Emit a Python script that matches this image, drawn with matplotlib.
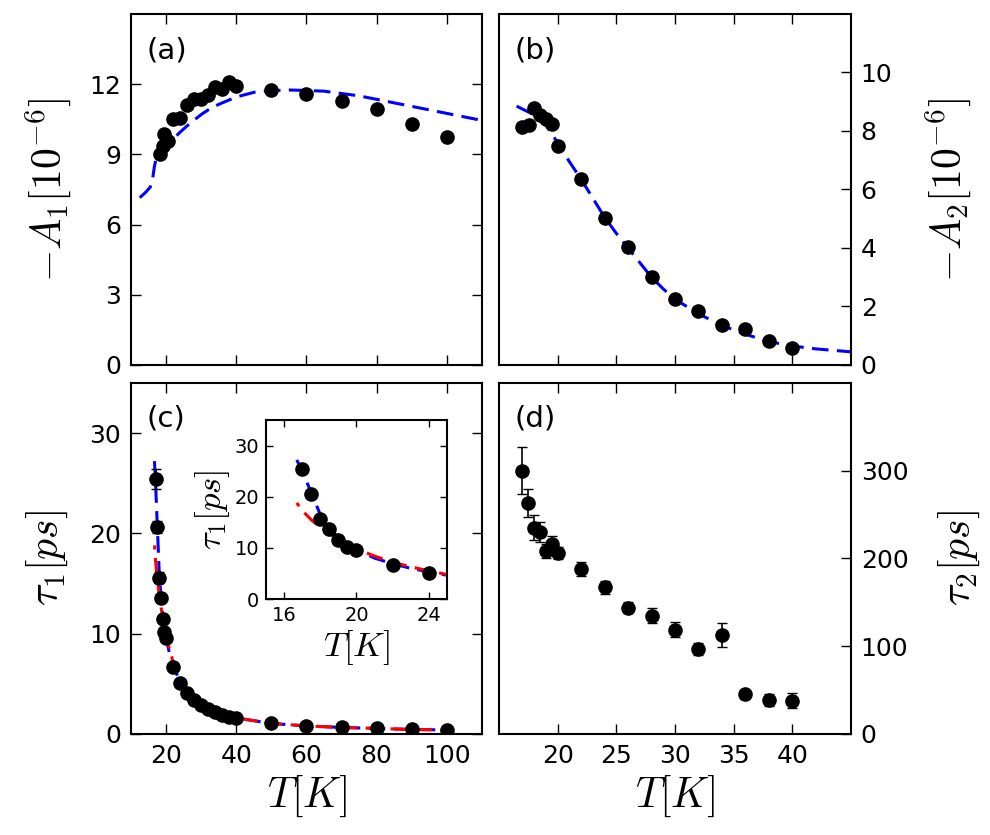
import matplotlib
matplotlib.use('Agg')
import matplotlib.pyplot as plt

plt.rcParams['mathtext.fontset'] = 'cm'
plt.rcParams['font.family'] = ['DejaVu Sans']
plt.rcParams['lines.scale_dashes'] = False

# (a) -A1 data and fit
t_a = [18.4, 19.1, 19.5, 20.5, 22, 24, 26, 28, 30, 32, 34, 36, 38, 40,
       50, 60, 70, 80, 90, 100]
a1 = [9.0, 9.35, 9.88, 9.58, 10.5, 10.57, 11.1, 11.36, 11.36, 11.53, 11.86,
      11.81, 12.1, 11.9, 11.76, 11.57, 11.29, 10.93, 10.29, 9.74]
fit_t_a = [12.5, 14, 15.5, 16.2, 16.7, 17.2, 18, 19, 20, 22, 24, 27, 30, 33,
           36, 40, 45, 50, 55, 60, 65, 70, 75, 80, 85, 90, 95, 100, 105, 110]
fit_a1 = [7.15, 7.35, 7.6, 8.0, 8.5, 8.85, 9.0, 9.15, 9.3, 9.65, 9.95, 10.35,
          10.7, 11.0, 11.2, 11.45, 11.65, 11.72, 11.75, 11.73, 11.7, 11.6,
          11.5, 11.35, 11.2, 11.05, 10.9, 10.75, 10.6, 10.45]

# (b) -A2 data and fit
t_b = [17.0, 17.6, 18.0, 18.5, 19.0, 19.5, 20, 22, 24, 26, 28, 30, 32, 34,
       36, 38, 40]
a2 = [8.15, 8.22, 8.79, 8.55, 8.4, 8.25, 7.5, 6.35, 5.02, 4.03, 3.01, 2.26,
      1.84, 1.35, 1.24, 0.82, 0.59]
fit_t_b = [16.5, 18, 19, 20, 21, 22, 23, 24, 25, 26, 27, 28, 29, 30, 32, 34,
           36, 38, 40, 42, 45]
fit_a2 = [8.85, 8.55, 8.2, 7.6, 6.95, 6.35, 5.7, 5.05, 4.5, 4.0, 3.5, 3.0,
          2.6, 2.25, 1.75, 1.35, 1.05, 0.8, 0.65, 0.55, 0.45]

# (c) tau1 data and fits
t_c = [17, 17.5, 18, 18.5, 19, 19.5, 20, 22, 24, 26, 28, 30, 32, 34, 36, 38,
       40, 50, 60, 70, 80, 90, 100]
tau1 = [25.4, 20.6, 15.6, 13.6, 11.5, 10.2, 9.6, 6.7, 5.1, 4.06, 3.4, 2.9,
        2.46, 2.23, 1.9, 1.73, 1.63, 1.06, 0.8, 0.7, 0.57, 0.47, 0.4]
tau1_err = [1.0, 0.6, 0.5, 0.4, 0.3, 0.3, 0.3, 0.2, 0.2, 0.1, 0.1, 0.1, 0.1,
            0.1, 0.1, 0.1, 0.1, 0.05, 0.05, 0.05, 0.05, 0.05, 0.05]
fit_t_blue = [16.7, 17.0, 17.5, 18.0, 18.5, 19, 19.5, 20, 21, 22, 23, 24, 25,
              27, 30, 35, 40, 50, 60, 70, 80, 90, 100]
fit_tau_blue = [27.2, 25.0, 20.8, 16.5, 13.9, 12.0, 10.6, 9.6, 8.0, 6.9, 6.0,
                5.3, 4.65, 3.9, 3.0, 2.1, 1.6, 1.05, 0.8, 0.65, 0.55, 0.45, 0.4]
fit_t_red = [16.7, 17, 17.5, 18, 18.5, 19, 20, 21, 22, 23, 24, 25, 27, 30, 35,
             40, 50, 60, 70, 80, 90, 100]
fit_tau_red = [18.8, 17.3, 15.5, 14.0, 12.8, 11.7, 9.8, 8.4, 7.2, 6.3, 5.5,
               4.8, 3.9, 3.0, 2.1, 1.6, 1.05, 0.8, 0.65, 0.55, 0.45, 0.4]

# (d) tau2 data
t_d = [17, 17.5, 18, 18.5, 19, 19.5, 20, 22, 24, 26, 28, 30, 32, 34, 36, 38, 40]
tau2 = [300, 263, 235, 230, 208, 217, 206, 188, 167, 144, 134.5, 119, 97,
        113, 45, 39, 38]
tau2_err = [27, 16, 14, 11, 8, 9, 7, 8, 7.5, 6.5, 8.5, 8.5, 7, 14, 5, 7, 8.5]

TICK_FS = 18
LABEL_FS = 30
PANEL_FS = 21
MS = 9.5
DASH = (12, 6)


def style(ax, fs=TICK_FS):
    ax.tick_params(direction='in', top=True, right=True, length=7, width=1,
                   labelsize=fs, pad=7)
    for s in ax.spines.values():
        s.set_linewidth(1.5)


fig = plt.figure(figsize=(9.9, 8.35), dpi=100)
ax_a = fig.add_axes([0.1323, 0.5629, 0.3545, 0.4204])
ax_b = fig.add_axes([0.5040, 0.5629, 0.3556, 0.4204])
ax_c = fig.add_axes([0.1323, 0.1210, 0.3545, 0.4204])
ax_d = fig.add_axes([0.5040, 0.1210, 0.3556, 0.4204])
ax_in = fig.add_axes([0.2687, 0.2826, 0.1828, 0.2144])

# (a)
ax_a.plot(fit_t_a, fit_a1, color='blue', lw=2.2, dashes=DASH)
ax_a.plot(t_a, a1, 'ko', ms=MS)
ax_a.set_xlim(10, 110)
ax_a.set_ylim(0, 15)
ax_a.set_yticks([0, 3, 6, 9, 12])
ax_a.set_xticks([20, 40, 60, 80, 100])
ax_a.set_xticklabels([])
ax_a.set_ylabel(r'$-A_1[10^{-6}]$', fontsize=LABEL_FS, labelpad=12)
ax_a.text(0.043, 0.897, '(a)', transform=ax_a.transAxes, fontsize=PANEL_FS,
          va='center', ha='left')
style(ax_a)

# (b)
ax_b.plot(fit_t_b, fit_a2, color='blue', lw=2.2, dashes=DASH)
ax_b.plot(t_b, a2, 'ko', ms=MS)
ax_b.set_xlim(15, 45)
ax_b.set_ylim(0, 12)
ax_b.set_yticks([0, 2, 4, 6, 8, 10])
ax_b.set_xticks([20, 25, 30, 35, 40])
ax_b.set_xticklabels([])
ax_b.yaxis.tick_right()
ax_b.yaxis.set_label_position('right')
ax_b.set_ylabel(r'$-A_2[10^{-6}]$', fontsize=LABEL_FS, rotation=90,
                labelpad=22)
ax_b.text(0.043, 0.897, '(b)', transform=ax_b.transAxes, fontsize=PANEL_FS,
          va='center', ha='left')
style(ax_b)
ax_b.tick_params(labelleft=False, labelright=True)

# (c)
ax_c.plot(fit_t_blue, fit_tau_blue, color='blue', lw=2.2, dashes=DASH)
ax_c.plot(fit_t_red, fit_tau_red, color='red', lw=2.2,
          linestyle=(9, DASH))
ax_c.errorbar(t_c, tau1, yerr=tau1_err, fmt='ko', ms=MS, ecolor='k',
              elinewidth=1.2, capsize=3.6, zorder=3)
ax_c.set_xlim(10, 110)
ax_c.set_ylim(0, 35)
ax_c.set_yticks([0, 10, 20, 30])
ax_c.set_xticks([20, 40, 60, 80, 100])
ax_c.set_ylabel(r'$\tau_1[ps]$', fontsize=LABEL_FS, labelpad=14)
ax_c.set_xlabel(r'$T[K]$', fontsize=LABEL_FS, labelpad=4)
ax_c.text(0.043, 0.90, '(c)', transform=ax_c.transAxes, fontsize=PANEL_FS,
          va='center', ha='left')
style(ax_c)

# inset
ax_in.plot(fit_t_blue, fit_tau_blue, color='blue', lw=2.2, dashes=DASH)
ax_in.plot(fit_t_red, fit_tau_red, color='red', lw=2.2, linestyle=(9, DASH))
ax_in.plot(t_c, tau1, 'ko', ms=MS)
ax_in.set_xlim(15, 25)
ax_in.set_ylim(0, 35)
ax_in.set_xticks([16, 20, 24])
ax_in.set_yticks([0, 10, 20, 30])
ax_in.set_xlabel(r'$T[K]$', fontsize=25, labelpad=2)
ax_in.set_ylabel(r'$\tau_1[ps]$', fontsize=25, labelpad=2)
style(ax_in, fs=14)
ax_in.tick_params(length=5, pad=5)

# (d)
ax_d.errorbar(t_d, tau2, yerr=tau2_err, fmt='ko', ms=MS, ecolor='k',
              elinewidth=1.2, capsize=3.6)
ax_d.set_xlim(15, 45)
ax_d.set_ylim(0, 400)
ax_d.set_yticks([0, 100, 200, 300])
ax_d.set_xticks([20, 25, 30, 35, 40])
ax_d.yaxis.tick_right()
ax_d.yaxis.set_label_position('right')
ax_d.set_ylabel(r'$\tau_2[ps]$', fontsize=LABEL_FS, rotation=90, labelpad=20)
ax_d.set_xlabel(r'$T[K]$', fontsize=LABEL_FS, labelpad=4)
ax_d.text(0.043, 0.90, '(d)', transform=ax_d.transAxes, fontsize=PANEL_FS,
          va='center', ha='left')
style(ax_d)
ax_d.tick_params(labelleft=False, labelright=True)

fig.savefig('out.png', dpi=100)
